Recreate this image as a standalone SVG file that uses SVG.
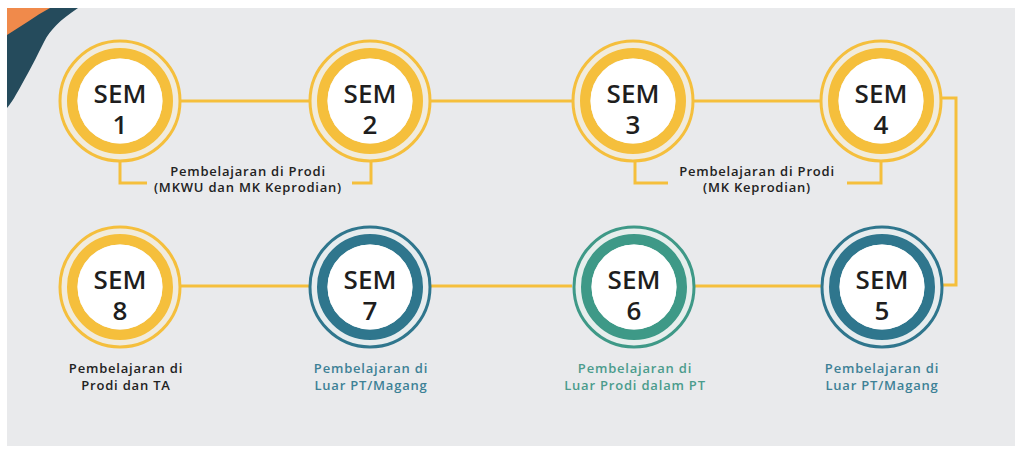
<svg xmlns="http://www.w3.org/2000/svg" width="1022" height="450" viewBox="0 0 1022 450">
<style>
.thin{fill:none;stroke-width:3}
.gap{stroke:none}
.thick{fill:none;stroke-width:10.5}
.inner{fill:#ffffff;stroke:none}
.y{stroke:#f5bf3c;fill:#f1ebdc}
.b{stroke:#2f768d;fill:#e6ecee}
.g{stroke:#3e9987;fill:#e6eeec}
.sem{font-family:"Open Sans","Liberation Sans",sans-serif;font-size:26px;font-weight:600;fill:#1e1e1e;stroke:none;text-anchor:middle}
.lbl{font-family:"Open Sans","Liberation Sans",sans-serif;font-size:13px;font-weight:600;letter-spacing:0.8px;text-anchor:middle}
.dark{fill:#222222}
.blue{fill:#3d8196}
.green{fill:#4b9c8c}
.conn{fill:none;stroke:#f5bf3c;stroke-width:3}
</style>
<defs>
<g id="ring">
<circle class="gap" r="58.5"/>
<circle class="thin" r="60"/>
<circle class="thick" r="47.75"/>
<circle class="inner" r="42.5"/>
</g>
</defs>
<rect x="7" y="8" width="1008" height="438" fill="#e9eaec"/>
<g id="decoration">
<path d="M7,8 H78 C60,20 50,30 44,42 C36,58 30,70 22,84 C16,95 12,102 7,108 Z" fill="#254b5c"/>
<path d="M7,8 H50 C35,16 22,26 7,35 Z" fill="#f08a4b"/>
</g>
<g id="connectors">
<line class="conn" x1="181" y1="101" x2="309" y2="101"/>
<line class="conn" x1="431" y1="101" x2="572" y2="101"/>
<line class="conn" x1="694" y1="101" x2="820" y2="101"/>
<path class="conn" d="M942,98 H956 V285 H943"/>
<line class="conn" x1="181" y1="286" x2="309" y2="286"/>
<line class="conn" x1="431" y1="286" x2="572" y2="286"/>
<line class="conn" x1="694" y1="286" x2="821" y2="286"/>
<path class="conn" d="M120,162 V183 H147"/>
<path class="conn" d="M371,162 V183 H352"/>
<path class="conn" d="M635,162 V183 H668"/>
<path class="conn" d="M881,162 V183 H847"/>
</g>
<g id="sem1"><use class="y" href="#ring" x="120" y="101"/><text class="sem" x="120" y="103">SEM<tspan x="120" dy="31">1</tspan></text></g>
<g id="sem2"><use class="y" href="#ring" x="370" y="101"/><text class="sem" x="370" y="103">SEM<tspan x="370" dy="31">2</tspan></text></g>
<g id="sem3"><use class="y" href="#ring" x="633" y="101"/><text class="sem" x="633" y="103">SEM<tspan x="633" dy="31">3</tspan></text></g>
<g id="sem4"><use class="y" href="#ring" x="881" y="101"/><text class="sem" x="881" y="103">SEM<tspan x="881" dy="31">4</tspan></text></g>
<g id="sem8"><use class="y" href="#ring" x="120" y="287"/><text class="sem" x="120" y="289">SEM<tspan x="120" dy="31">8</tspan></text></g>
<g id="sem7"><use class="b" href="#ring" x="370" y="287"/><text class="sem" x="370" y="289">SEM<tspan x="370" dy="31">7</tspan></text></g>
<g id="sem6"><use class="g" href="#ring" x="634" y="287"/><text class="sem" x="634" y="289">SEM<tspan x="634" dy="31">6</tspan></text></g>
<g id="sem5"><use class="b" href="#ring" x="882" y="287"/><text class="sem" x="882" y="289">SEM<tspan x="882" dy="31">5</tspan></text></g>
<g id="label12">
<text class="lbl dark" x="248" y="176">Pembelajaran di Prodi<tspan x="248" dy="16">(MKWU dan MK Keprodian)</tspan></text>
</g>
<g id="label34">
<text class="lbl dark" x="757" y="176">Pembelajaran di Prodi<tspan x="757" dy="16">(MK Keprodian)</tspan></text>
</g>
<g id="label8">
<text class="lbl dark" x="126" y="373">Pembelajaran di<tspan x="126" dy="17">Prodi dan TA</tspan></text>
</g>
<g id="label7">
<text class="lbl blue" x="371" y="373">Pembelajaran di<tspan x="371" dy="17">Luar PT/Magang</tspan></text>
</g>
<g id="label6">
<text class="lbl green" x="635" y="373">Pembelajaran di<tspan x="635" dy="17">Luar Prodi dalam PT</tspan></text>
</g>
<g id="label5">
<text class="lbl blue" x="882" y="373">Pembelajaran di<tspan x="882" dy="17">Luar PT/Magang</tspan></text>
</g>
</svg>
